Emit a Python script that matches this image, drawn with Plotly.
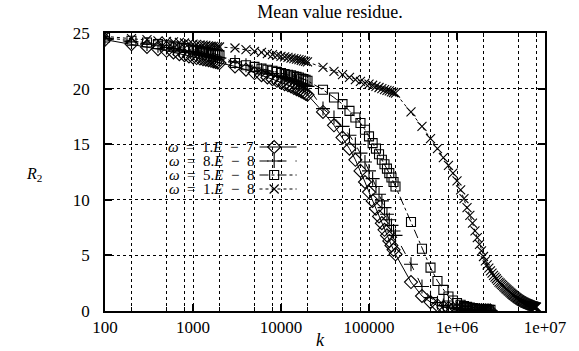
import plotly.graph_objects as go

# ---- data ----
K_COMMON = [100, 200, 300, 400, 500, 600, 700, 800, 900, 1000,
            1100, 1200, 1300, 1400, 1500, 1600, 1700, 1800, 1900, 2000,
            3000, 4000, 5000, 6000, 7000, 8000, 9000, 10000, 11000, 12000,
            13000, 14000, 15000, 16000, 17000, 18000, 19000, 20000,
            30000, 40000, 50000, 60000, 70000, 80000, 90000, 100000, 110000, 120000,
            130000, 140000, 150000, 160000, 170000, 180000, 190000, 200000,
            300000, 400000, 500000, 600000, 700000, 800000, 900000, 1000000,
            1100000, 1200000, 1300000, 1400000, 1500000, 1600000, 1700000, 1800000,
            1900000, 2000000, 2100000, 2200000, 2300000, 2400000]

K_X_EXTRA = [2500000, 2600000, 2700000, 2800000, 2900000, 3000000, 3100000, 3200000,
             3300000, 3400000, 3500000, 3600000, 3700000, 3800000, 3900000, 4000000,
             4100000, 4200000, 4300000, 4400000, 4500000, 4600000, 4700000, 4800000,
             4900000, 5000000, 5100000, 5200000, 5300000, 5400000, 5500000, 5600000,
             5700000, 5800000, 5900000, 6000000, 6100000, 6200000, 6300000, 6400000,
             6500000, 6600000, 6700000, 6800000, 6900000, 7000000, 7100000, 7200000,
             7300000, 7400000, 7500000, 7600000, 7700000, 7800000, 7900000, 8000000]

R_W1E7 = [24.4, 24.0, 23.75, 23.55, 23.4, 23.25, 23.1, 23.0, 22.9, 22.8,
          22.75, 22.7, 22.65, 22.6, 22.55, 22.5, 22.45, 22.4, 22.35, 22.3,
          22.0, 21.7, 21.4, 21.2, 21.0, 20.85, 20.7, 20.55, 20.4, 20.3,
          20.2, 20.05, 19.95, 19.85, 19.75, 19.65, 19.55, 19.45,
          17.9, 16.7, 15.6, 14.6, 13.6, 12.6, 11.6, 10.7, 9.9, 9.2,
          8.5, 7.9, 7.3, 6.8, 6.3, 5.9, 5.5, 5.1,
          2.6, 1.35, 0.8, 0.5, 0.35, 0.26, 0.2, 0.16, 0.13, 0.11, 0.1,
          0.09, 0.08, 0.07, 0.06, 0.05, 0.05, 0.04, 0.04, 0.03, 0.03, 0.03]

R_W8E8 = [24.5, 24.2, 24.0, 23.85, 23.7, 23.6, 23.5, 23.4, 23.35, 23.3,
          23.2, 23.15, 23.1, 23.05, 23.0, 22.95, 22.9, 22.85, 22.8, 22.75,
          22.4, 22.1, 21.85, 21.65, 21.5, 21.35, 21.2, 21.1, 21.0, 20.9,
          20.8, 20.7, 20.6, 20.5, 20.4, 20.3, 20.25, 20.2,
          18.2, 17.4, 16.6, 15.8, 15.0, 14.2, 13.4, 12.6, 11.9, 11.2,
          10.5, 9.9, 9.3, 8.7, 8.2, 7.7, 7.2, 6.8,
          4.2, 2.2, 1.2, 0.75, 0.5, 0.36, 0.27, 0.21, 0.17, 0.14, 0.12,
          0.1, 0.09, 0.08, 0.07, 0.06, 0.06, 0.05, 0.05, 0.04, 0.04, 0.04]

R_W5E8 = [24.6, 24.3, 24.15, 24.0, 23.9, 23.8, 23.7, 23.65, 23.6, 23.5,
          23.45, 23.4, 23.35, 23.3, 23.25, 23.2, 23.15, 23.1, 23.05, 23.0,
          22.3, 22.1, 21.95, 21.8, 21.7, 21.6, 21.5, 21.4, 21.3, 21.25,
          21.2, 21.1, 21.05, 21.0, 20.9, 20.85, 20.8, 20.7,
          19.9, 19.2, 18.6, 18.0, 17.4, 16.9, 16.3, 15.7, 15.1, 14.6,
          14.1, 13.6, 13.2, 12.8, 12.4, 12.0, 11.6, 11.2,
          8.0, 5.6, 3.9, 2.7, 1.9, 1.3, 0.95, 0.72, 0.56, 0.45, 0.37,
          0.31, 0.27, 0.23, 0.2, 0.18, 0.16, 0.14, 0.13, 0.12, 0.11, 0.1]

R_W1E8 = [24.7, 24.5, 24.4, 24.3, 24.25, 24.2, 24.15, 24.1, 24.05, 24.0,
          23.97, 23.94, 23.91, 23.88, 23.85, 23.82, 23.8, 23.78, 23.76, 23.74,
          23.65, 23.5, 23.35, 23.25, 23.15, 23.05, 22.98, 22.9, 22.85, 22.8,
          22.75, 22.7, 22.65, 22.6, 22.55, 22.5, 22.45, 22.4,
          21.9, 21.55, 21.25, 21.0, 20.8, 20.65, 20.5, 20.4, 20.3, 20.2,
          20.1, 20.0, 19.9, 19.85, 19.8, 19.7, 19.65, 19.6,
          17.9, 16.6, 15.5, 14.6, 13.8, 13.1, 12.4, 11.7, 10.9, 10.1, 9.3,
          8.6, 7.9, 7.2, 6.6, 6.0, 5.4, 4.9, 4.5, 4.15, 3.85, 3.6,
          3.4, 3.2, 3.05, 2.9, 2.75, 2.6, 2.5, 2.4, 2.3, 2.2, 2.1, 2.0,
          1.92, 1.84, 1.76, 1.68, 1.6, 1.53, 1.46, 1.4, 1.34, 1.28, 1.22, 1.17,
          1.12, 1.07, 1.02, 0.98, 0.94, 0.9, 0.86, 0.83, 0.8, 0.77, 0.74, 0.71,
          0.68, 0.66, 0.63, 0.61, 0.59, 0.57, 0.55, 0.53, 0.51, 0.49, 0.47, 0.46,
          0.44, 0.43, 0.41, 0.4, 0.38, 0.37, 0.36, 0.35]

SP = "\u2002"
LABELS = [f"<i>ω</i>{SP}={SP}1.<i>E</i>{SP}−{SP}7", f"<i>ω</i>{SP}={SP}8.<i>E</i>{SP}−{SP}8",
          f"<i>ω</i>{SP}={SP}5.<i>E</i>{SP}−{SP}8", f"<i>ω</i>{SP}={SP}1.<i>E</i>{SP}−{SP}8"]

X_TICKS = [100, 1000, 10000, 100000, 1000000, 10000000]
X_TICKTEXT = ["100", "1000", "10000", "100000", "1e+06", "1e+07"]
X_MINOR = [200, 500, 800, 2000, 5000, 8000, 20000, 50000, 80000,
           200000, 500000, 800000, 2000000, 5000000, 8000000]
Y_TICKS = [0, 5, 10, 15, 20, 25]

# ---- style ----
SYMBOLS = ["diamond-open", "cross-thin-open", "square-open", "x-thin-open"]
DASHES = ["solid", "dash", "dashdot", "dot"]
SIZES = [10, 10, 9, 9]
FONT = "Liberation Serif"

series = [
    (K_COMMON, R_W1E7),
    (K_COMMON, R_W8E8),
    (K_COMMON, R_W5E8),
    (K_COMMON + K_X_EXTRA, R_W1E8),
]
for k, r in series:
    assert len(k) == len(r), (len(k), len(r))

fig = go.Figure()
for i, (k, r) in enumerate(series):
    fig.add_trace(go.Scatter(
        x=k, y=r, mode="lines+markers", showlegend=False,
        line=dict(color="black", width=1, dash=DASHES[i]),
        marker=dict(symbol=SYMBOLS[i], size=SIZES[i], color="black",
                    line=dict(color="black", width=1.1)),
        cliponaxis=True,
    ))

# manual key (text on the left, sample on the right), on a pixel-scaled overlay axis
ROW_Y = [147, 161, 175, 189]
for i, lab in enumerate(LABELS):
    fig.add_trace(go.Scatter(
        x=[263, 301], y=[ROW_Y[i], ROW_Y[i]], xaxis="x2", yaxis="y2",
        mode="lines", showlegend=False, hoverinfo="skip",
        line=dict(color="black", width=1, dash=DASHES[i])))
    fig.add_trace(go.Scatter(
        x=[278], y=[ROW_Y[i]], xaxis="x2", yaxis="y2",
        mode="markers", showlegend=False, hoverinfo="skip",
        marker=dict(symbol=SYMBOLS[i], size=SIZES[i], color="black",
                    line=dict(color="black", width=1.1))))
    fig.add_annotation(x=258, y=ROW_Y[i], xref="x2", yref="y2", text=lab,
                       showarrow=False, xanchor="right", yanchor="middle",
                       borderpad=0,
                       font=dict(family=FONT, size=15, color="black"))

W, H = 579, 351
L, R, T, B = 105, 24, 33, 40

fig.update_layout(
    width=W, height=H,
    margin=dict(l=L, r=R, t=T, b=B),
    paper_bgcolor="white", plot_bgcolor="white",
    font=dict(family=FONT, size=17, color="black"),
    title=dict(text="Mean value residue.", x=(L + (W - L - R) / 2) / W, xanchor="center",
               y=1 - 12 / H, yanchor="middle", font=dict(family=FONT, size=18)),
    xaxis=dict(type="log", range=[2, 7], tickmode="array", tickvals=X_TICKS,
               ticktext=X_TICKTEXT, ticks="inside", ticklen=7, tickwidth=1.5,
               tickcolor="black", showline=True, linecolor="black", linewidth=1.5,
               mirror="ticks", showgrid=True, gridcolor="black", gridwidth=1,
               griddash="dot", zeroline=False,
               minor=dict(tickmode="array", tickvals=X_MINOR, ticks="inside",
                          ticklen=4, tickcolor="black", tickwidth=1,
                          showgrid=True, gridcolor="black", gridwidth=1,
                          griddash="dot")),
    yaxis=dict(range=[0, 25], tickmode="array", tickvals=Y_TICKS,
               ticks="inside", ticklen=7, tickwidth=1.5, tickcolor="black",
               showline=True, linecolor="black", linewidth=1.5, mirror="ticks",
               showgrid=True, gridcolor="black", gridwidth=1, griddash="dot",
               zeroline=False, ticklabelstandoff=10),
    xaxis2=dict(range=[L, W - R], overlaying="x", visible=False, fixedrange=True),
    yaxis2=dict(range=[H - B, T], overlaying="y", visible=False, fixedrange=True),
)

PW, PH = W - L - R, H - T - B
fig.add_annotation(x=(32 - L) / PW, y=(H - B - 175) / PH, xref="paper", yref="paper",
                   xanchor="center", yanchor="middle",
                   text="<i>R</i><sub>2</sub>", showarrow=False,
                   font=dict(family=FONT, size=16, color="black"))
fig.add_annotation(x=(325 - L) / PW, y=(H - B - 340) / PH, xref="paper", yref="paper",
                   xanchor="center", yanchor="middle",
                   text="<i>k</i>", showarrow=False,
                   font=dict(family=FONT, size=18, color="black"))

fig.write_html("out.html")
